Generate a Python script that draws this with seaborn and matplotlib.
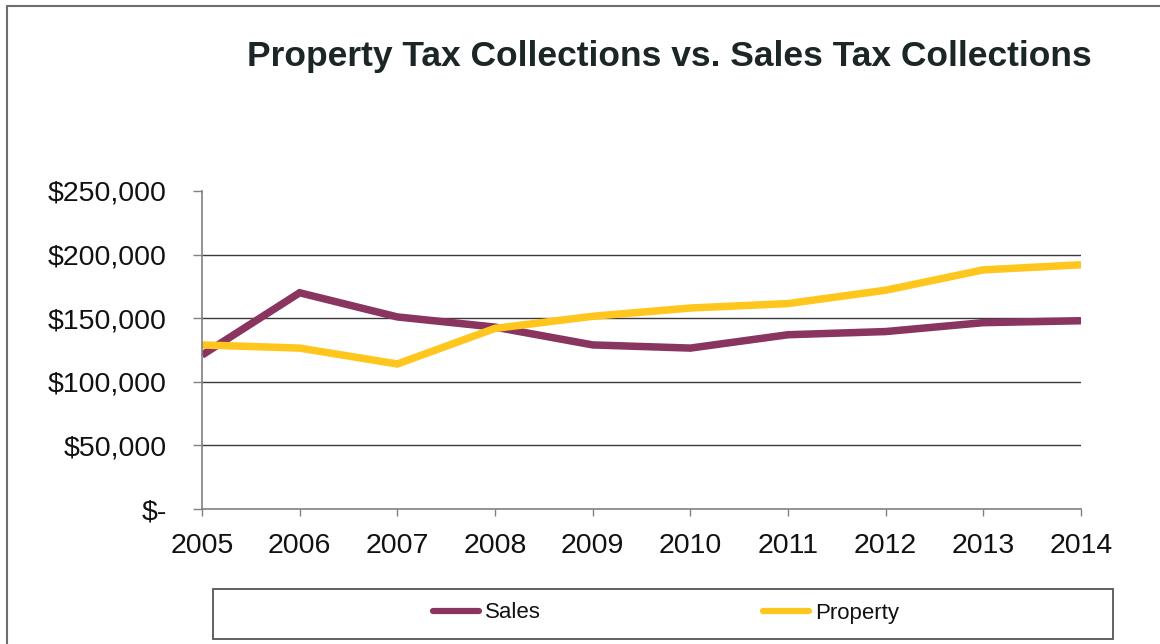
import matplotlib
matplotlib.use("Agg")
import matplotlib.pyplot as plt
from matplotlib.lines import Line2D
from matplotlib.patches import Rectangle
from matplotlib.ticker import FuncFormatter, MultipleLocator
import seaborn as sns
import pandas as pd

# Annual collections, 2005-2014
years = [2005, 2006, 2007, 2008, 2009, 2010, 2011, 2012, 2013, 2014]
sales = [121000, 170000, 151000, 143000, 129000, 126500, 137000, 139500, 146500, 148000]
property_tax = [129000, 126500, 114000, 142000, 151500, 158000, 161500, 172000, 188000, 192000]
series_names = ["Sales", "Property"]
series_colors = ["#8a3560", "#ffc61e"]
title = "Property Tax Collections vs. Sales Tax Collections"

df = pd.DataFrame({
    "Year": years * 2,
    "Collections": sales + property_tax,
    "Series": [series_names[0]] * len(years) + [series_names[1]] * len(years),
})

sns.set_theme(style="white")
plt.rcParams["font.family"] = ["Liberation Sans", "DejaVu Sans"]

W, H = 1160, 644
fig = plt.figure(figsize=(W / 100, H / 100), dpi=100)
ax = fig.add_axes([202 / W, 1 - 509 / H, (1081 - 202) / W, (509 - 191) / H])

sns.lineplot(data=df, x="Year", y="Collections", hue="Series",
             palette=dict(zip(series_names, series_colors)),
             linewidth=5.4, legend=False, ax=ax)
for ln in ax.get_lines():
    ln.set_solid_capstyle("butt")
    ln.set_solid_joinstyle("miter")

ax.set_xlim(years[0], years[-1])
ax.set_ylim(0, 250000)
ax.set_xticks(years)
ax.set_xticklabels([str(y) for y in years])
ax.yaxis.set_major_locator(MultipleLocator(50000))
ax.yaxis.set_major_formatter(FuncFormatter(lambda v, p: "$-" if v == 0 else f"${v:,.0f}"))
ax.set_xlabel("")
ax.set_ylabel("")

# horizontal gridlines (none at the top value)
ax.yaxis.grid(True, color="#3a3a3a", linewidth=1.0)
ax.set_axisbelow(True)
fig.canvas.draw()
for val, gl in zip(ax.get_yticks(), ax.get_ygridlines()):
    if val <= 0 or val >= 250000:
        gl.set_visible(False)

for side in ["top", "right"]:
    ax.spines[side].set_visible(False)
for side in ["left", "bottom"]:
    ax.spines[side].set_color("#808080")
    ax.spines[side].set_linewidth(1.2)

ax.tick_params(axis="y", which="major", direction="out", left=True, length=6.5,
               width=1.0, color="#808080", pad=19, labelsize=20.5, labelcolor="#111111")
ax.tick_params(axis="x", which="major", direction="out", bottom=True, length=5,
               width=1.0, color="#808080", pad=12, labelsize=20.5, labelcolor="#111111")

# title
fig.text(669 / W, 1 - 66 / H, title, ha="center", va="baseline",
         fontsize=25.5, fontweight="bold", color="#1c2626")

# outer chart frame (left and top edges)
fig.add_artist(Line2D([7 / W, 7 / W], [0, 1 - 6 / H], transform=fig.transFigure,
                      color="#6e6e6e", linewidth=1.5))
fig.add_artist(Line2D([7 / W, 1], [1 - 6 / H, 1 - 6 / H], transform=fig.transFigure,
                      color="#6e6e6e", linewidth=1.5))

# legend box
fig.add_artist(Rectangle((213 / W, 1 - 639 / H), (1113 - 213) / W, (639 - 589) / H,
                         transform=fig.transFigure, fill=False,
                         edgecolor="#555555", linewidth=1.3))
handles = [Line2D([], [], color=c, linewidth=4.5, solid_capstyle="round") for c in series_colors]
fig.legend(handles, series_names, loc="center", bbox_to_anchor=(666 / W, 1 - 613 / H),
           ncol=2, frameon=False, fontsize=16, handlelength=2.05, handletextpad=0.28,
           columnspacing=10.0, labelcolor="#111111")

fig.savefig("out.png", dpi=100)
